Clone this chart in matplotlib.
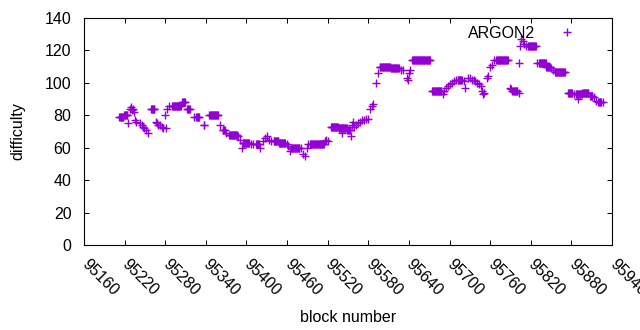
import numpy as np
import matplotlib
matplotlib.use("Agg")
import matplotlib.pyplot as plt

# flat runs of difficulty: start block, end block, difficulty
run_start = [95212, 95219, 95259, 95290, 95305, 95312, 95326, 95345, 95365, 95374,
             95395, 95414, 95440, 95448, 95466, 95494, 95525, 95536, 95549, 95597,
             95613, 95645, 95674, 95712, 95769, 95793, 95816, 95832, 95843, 95856,
             95875, 95887, 95896, 95908, 95920]
run_end = [95218, 95224, 95264, 95303, 95309, 95316, 95330, 95358, 95368, 95386,
           95404, 95418, 95447, 95457, 95478, 95514, 95535, 95548, 95553, 95612,
           95625, 95671, 95688, 95718, 95786, 95800, 95827, 95842, 95848, 95870,
           95881, 95895, 95905, 95911, 95924]
run_diff = [79, 80, 84, 86, 88, 84, 79, 80, 71, 68,
            63, 62, 64, 63, 60, 62, 73, 72, 71, 110,
            109, 114, 95, 102, 114, 95, 123, 112, 110, 107,
            94, 93, 94, 92, 88]

# individual blocks between the runs
single_block = [95225, 95228, 95229, 95231, 95233, 95234, 95235, 95237, 95243, 95245,
                95247, 95249, 95251, 95254, 95266, 95268, 95270, 95272, 95275, 95277,
                95279, 95281, 95283, 95286, 95322, 95337, 95338, 95361, 95370, 95388,
                95390, 95393, 95407, 95410, 95420, 95424, 95427, 95430, 95433, 95436,
                95460, 95462, 95464, 95481, 95484, 95486, 95489, 95491, 95516, 95518,
                95520, 95541, 95554, 95556, 95557, 95559, 95562, 95565, 95568, 95571,
                95574, 95577, 95580, 95583, 95585, 95587, 95591, 95594, 95628, 95631,
                95637, 95638, 95640, 95642, 95690, 95692, 95695, 95698, 95701, 95704,
                95707, 95709, 95721, 95723, 95727, 95730, 95733, 95736, 95738, 95741,
                95744, 95746, 95748, 95749, 95751, 95755, 95757, 95760, 95763, 95766,
                95789, 95791, 95802, 95803, 95804, 95806, 95808, 95810, 95813, 95829,
                95850, 95853, 95884, 95890, 95913, 95916, 95926]
single_diff = [75, 84, 85, 83, 84, 82, 77, 76, 75, 74,
               73, 72, 71, 69, 76, 75, 74, 74, 73, 72,
               80, 72, 84, 86, 79, 74, 74, 74, 69, 67,
               65, 60, 62, 62, 60, 64, 66, 67, 65, 64,
               62, 61, 58, 60, 56, 55, 60, 62, 64, 65,
               64, 69, 67, 74, 76, 73, 74, 75, 76, 77,
               77, 78, 78, 84, 86, 87, 100, 106, 108, 108,
               103, 102, 106, 108, 93, 95, 97, 98, 99, 100,
               101, 102, 101, 97, 103, 103, 102, 102, 101, 100,
               99, 98, 95, 93, 94, 103, 104, 110, 111, 114,
               97, 96, 112, 94, 123, 127, 126, 124, 123, 112,
               109, 108, 93, 90, 91, 89, 88]

series_name = "ARGON2"
x_ticks = list(range(95160, 95941, 60))
y_ticks = list(range(0, 141, 20))

blocks = list(single_block)
diffs = list(single_diff)
for s, e, d in zip(run_start, run_end, run_diff):
    for b in range(s, e + 1):
        blocks.append(b)
        diffs.append(d)

plt.rcParams['font.family'] = ['Liberation Sans', 'DejaVu Sans']

fig = plt.figure(figsize=(6.4, 3.3), dpi=100)
ax = fig.add_axes([84 / 640, 1 - 245 / 330, (612 - 84) / 640, (245 - 18) / 330])

color = '#9400D3'
ax.plot(blocks, diffs, linestyle='none', marker='+', markersize=6.2,
        markeredgewidth=1.0, color=color, label=series_name)

ax.set_xlim(95160, 95940)
ax.set_ylim(0, 140)
ax.set_xticks(x_ticks)
ax.set_yticks(y_ticks)
ax.set_xticklabels([str(t) for t in x_ticks], rotation=-45, ha='left', va='center',
                   rotation_mode='anchor')
ax.tick_params(direction='in', top=True, right=True, length=3.6, width=0.7,
               labelsize=11.5, colors='black')
ax.tick_params(axis='x', pad=12)
ax.tick_params(axis='y', pad=9)
for sp in ax.spines.values():
    sp.set_linewidth(0.8)

ax.set_xlabel('block number', fontsize=11.5, labelpad=8)
ax.set_ylabel('difficulty', fontsize=11.5, labelpad=14)

ax.legend(loc='upper right', bbox_to_anchor=(583 / 640, 1 - 26 / 330),
          bbox_transform=fig.transFigure, frameon=False, markerfirst=False,
          borderpad=0, borderaxespad=0, handlelength=2, handletextpad=1.0,
          fontsize=11.5)

fig.savefig('out.png', dpi=100)
